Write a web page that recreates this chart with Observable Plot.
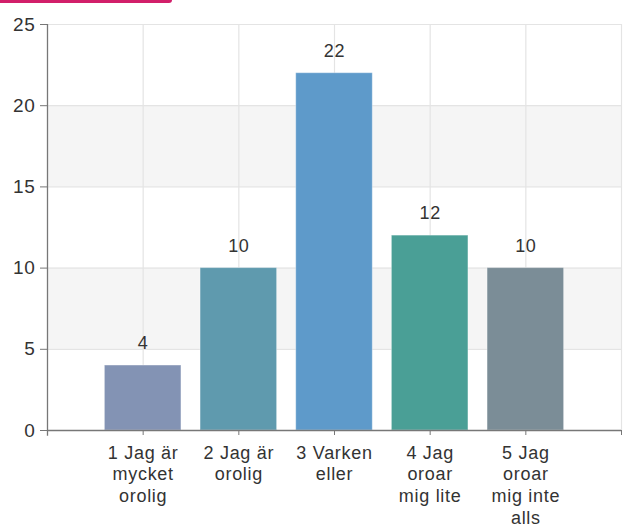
<!DOCTYPE html>
<html>
<head>
<meta charset="utf-8">
<script src="https://cdn.jsdelivr.net/npm/d3@7"></script>
<script src="https://cdn.jsdelivr.net/npm/@observablehq/plot@0.6"></script>
<style>
  html, body { margin: 0; padding: 0; background: #fff; }
  #wrap { position: relative; width: 633px; height: 530px; overflow: hidden; }
  #tab { position: absolute; left: 0; top: 0; width: 172px; height: 3px; background: #d21f6a; border-bottom-right-radius: 6px; }
  #chart { position: absolute; left: 0; top: 0; }
</style>
</head>
<body>
<div id="wrap"><div id="chart"></div><div id="tab"></div></div>
<script>
const categories = ["1 Jag är\nmycket\norolig", "2 Jag är\norolig", "3 Varken\neller", "4 Jag\noroar\nmig lite", "5 Jag\noroar\nmig inte\nalls"];
const values = [4, 10, 22, 12, 10];
const colors = ["#8393b4", "#5f9aae", "#5e9aca", "#4a9f96", "#7b8d97"];
const yTicks = [0, 5, 10, 15, 20, 25];
const shadedBands = [[5, 10], [15, 20]];

const data = categories.map((c, k) => ({ i: k + 1, label: c, v: values[k], color: colors[k] }));
const xPositions = [0, 1, 2, 3, 4, 5, 6];

const chart = Plot.plot({
  width: 633,
  height: 530,
  marginLeft: 47,
  marginRight: 12,
  marginTop: 24,
  marginBottom: 100,
  style: { fontFamily: "'Liberation Sans', Arial, sans-serif", fontSize: "19px", color: "#333", background: "transparent", letterSpacing: "0.7px" },
  x: { domain: [0, 6] },
  y: { domain: [0, 25] },
  marks: [
    Plot.rect(shadedBands, { x1: () => 0, x2: () => 6, y1: d => d[0], y2: d => d[1], fill: "#f5f5f5" }),
    Plot.ruleY(yTicks, { stroke: "#e4e4e4", strokeWidth: 1.2 }),
    Plot.ruleX(xPositions.slice(1), { stroke: "#e4e4e4", strokeWidth: 1.2 }),
    Plot.rectY(data, { x1: d => d.i - 0.4, x2: d => d.i + 0.4, y: "v", fill: d => d.color, stroke: "#ffffff", strokeOpacity: 0.35 }),
    Plot.text(data, { x: "i", y: "v", text: d => String(d.v), dy: -22, fontSize: 18, fill: "#333" }),
    Plot.axisY({ ticks: yTicks, tickSize: 7, tickPadding: 5, stroke: "#777", label: null, fontSize: 19 }),
    Plot.ruleX([0], { y1: () => -0.35, y2: () => 25, stroke: "#777", strokeWidth: 1.3 }),
    Plot.ruleY([0], { stroke: "#777", strokeWidth: 1.3 }),
    Plot.axisX({ ticks: xPositions, tickFormat: d => (categories[d - 1] ?? ""), tickSize: 5, tickPadding: 8, lineHeight: 1.2, stroke: "#777", label: null, fontSize: 18 })
  ]
});
document.getElementById("chart").appendChild(chart);
</script>
</body>
</html>
